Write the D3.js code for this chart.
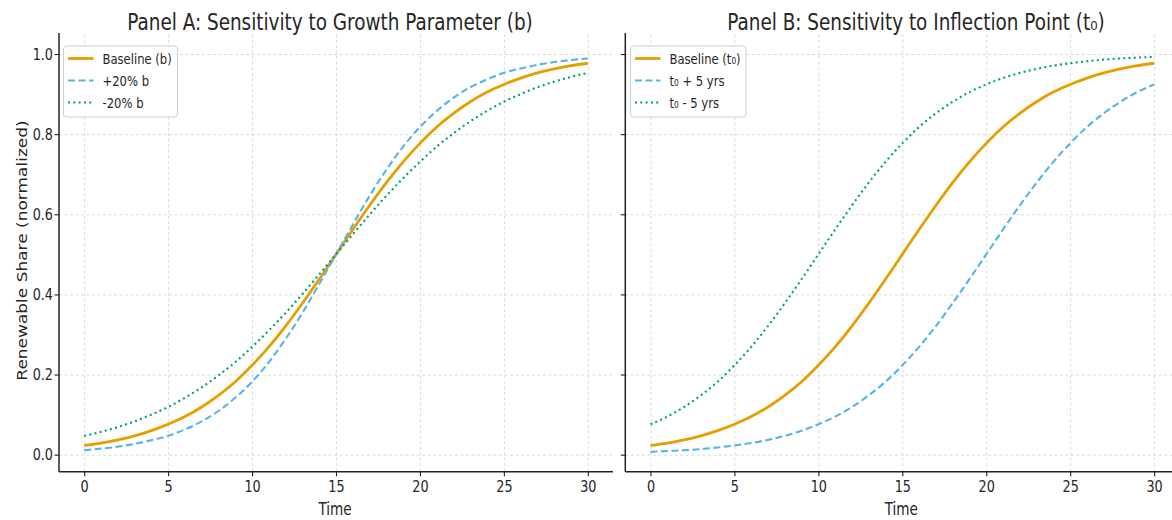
<!DOCTYPE html>
<html>
<head>
<meta charset="utf-8">
<script src="https://cdn.jsdelivr.net/npm/d3@7"></script>
<style>
  body { margin: 0; background: #fff; }
  text { font-family: "DejaVu Sans", sans-serif; fill: #262626; }
</style>
</head>
<body>
<div id="chart"></div>
<script>
/* data */
const years = [0,1,2,3,4,5,6,7,8,9,10,11,12,13,14,15,16,17,18,19,20,21,22,23,24,25,26,27,28,29,30];
const baseline = [0.023,0.029,0.037,0.047,0.060,0.076,0.095,0.119,0.148,0.182,0.223,0.269,0.321,0.378,0.438,0.500,0.562,0.622,0.679,0.731,0.777,0.818,0.852,0.881,0.905,0.924,0.940,0.953,0.963,0.971,0.977];
const growthUp = [0.011,0.015,0.020,0.027,0.036,0.047,0.063,0.083,0.109,0.142,0.182,0.231,0.289,0.354,0.426,0.500,0.574,0.646,0.711,0.769,0.818,0.858,0.891,0.917,0.937,0.953,0.964,0.973,0.980,0.985,0.989];
const growthDown = [0.047,0.057,0.069,0.083,0.100,0.119,0.142,0.168,0.198,0.231,0.269,0.310,0.354,0.401,0.450,0.500,0.550,0.599,0.646,0.690,0.731,0.769,0.802,0.832,0.858,0.881,0.900,0.917,0.931,0.943,0.953];
const lateShift = [0.007,0.009,0.011,0.014,0.018,0.023,0.029,0.037,0.047,0.060,0.076,0.095,0.119,0.148,0.182,0.223,0.269,0.321,0.378,0.438,0.500,0.562,0.622,0.679,0.731,0.777,0.818,0.852,0.881,0.905,0.924];
const earlyShift = [0.076,0.095,0.119,0.148,0.182,0.223,0.269,0.321,0.378,0.438,0.500,0.562,0.622,0.679,0.731,0.777,0.818,0.852,0.881,0.905,0.924,0.940,0.953,0.963,0.971,0.977,0.982,0.986,0.989,0.991,0.993];

const xTicks = [0, 5, 10, 15, 20, 25, 30];
const yTicks = [0.0, 0.2, 0.4, 0.6, 0.8, 1.0];
const titles = ["Panel A: Sensitivity to Growth Parameter (b)", "Panel B: Sensitivity to Inflection Point (t\u2080)"];
const labelsA = ["Baseline (b)", "+20% b", "-20% b"];
const labelsB = ["Baseline (t\u2080)", "t\u2080 + 5 yrs", "t\u2080 - 5 yrs"];

// styles per series: baseline, dashed, dotted
const styles = [
    { color: "#E69F00", width: 2.8, dash: null },
    { color: "#56B4E9", width: 2.1, dash: "7,3.5" },
    { color: "#009E73", width: 2.1, dash: "2,3.3" }
];

const W = 1172, H = 520;
const SX = 0.8; // text in the picture is squeezed sideways

const svg = d3.select("#chart").append("svg")
    .attr("width", W)
    .attr("height", H);

// shared y scale
const y = d3.scaleLinear()
    .domain([-0.0425, 1.0525])
    .range([471.7, 33]);

function squeezedText(g, x, y0, str, size, anchor) {
    return g.append("text")
        .attr("transform", "translate(" + x + "," + y0 + ") scale(" + SX + ",1)")
        .attr("text-anchor", anchor || "middle")
        .attr("font-size", size)
        .text(str);
}

function panel(left, right, title, titleX, series, labels, legendX, showYLabels) {
    const x = d3.scaleLinear()
        .domain([-1.5, 31.5])
        .range([left, right]);
    const g = svg.append("g");

    // grid
    g.append("g")
        .attr("transform", "translate(0," + y.range()[0] + ")")
        .call(d3.axisBottom(x).tickValues(xTicks).tickSize(-(y.range()[0] - y.range()[1])).tickFormat(""))
        .call(a => a.select(".domain").remove())
        .call(a => a.selectAll("line").attr("stroke", "#d2d2d2").attr("stroke-width", 0.8).attr("stroke-dasharray", "3,2.5"));
    g.append("g")
        .attr("transform", "translate(" + left + ",0)")
        .call(d3.axisLeft(y).tickValues(yTicks).tickSize(-(right - left)).tickFormat(""))
        .call(a => a.select(".domain").remove())
        .call(a => a.selectAll("line").attr("stroke", "#d2d2d2").attr("stroke-width", 0.8).attr("stroke-dasharray", "3,2.5"));

    // curves
    const line = d3.line()
        .x((d, i) => x(years[i]))
        .y(d => y(d))
        .curve(d3.curveMonotoneX);
    series.forEach((s, i) => {
        g.append("path")
            .datum(s)
            .attr("fill", "none")
            .attr("stroke", styles[i].color)
            .attr("stroke-width", styles[i].width)
            .attr("stroke-dasharray", styles[i].dash)
            .attr("d", line);
    });

    // axes
    const xa = g.append("g")
        .attr("transform", "translate(0," + y.range()[0] + ")")
        .call(d3.axisBottom(x).tickValues(xTicks).tickSize(4.5).tickPadding(4).tickFormat(d3.format("d")));
    xa.select(".domain").attr("d", "M" + left + ",0H" + right).attr("stroke", "#222").attr("stroke-width", 1.5);
    xa.selectAll(".tick line").attr("stroke", "#222").attr("stroke-width", 1.1);
    xa.selectAll("text")
        .attr("font-size", 16)
        .attr("font-family", "DejaVu Sans, sans-serif")
        .attr("fill", "#262626")
        .attr("transform", "scale(" + SX + ",1)");

    const ya = g.append("g")
        .attr("transform", "translate(" + left + ",0)")
        .call(d3.axisLeft(y).tickValues(yTicks).tickSize(4.5).tickPadding(3)
            .tickFormat(showYLabels ? d3.format(".1f") : ""));
    ya.select(".domain").attr("d", "M0," + y.range()[0] + "V" + y.range()[1]).attr("stroke", "#222").attr("stroke-width", 1.5);
    ya.selectAll(".tick line").attr("stroke", "#222").attr("stroke-width", 1.1);
    ya.selectAll("text")
        .attr("font-size", 16)
        .attr("font-family", "DejaVu Sans, sans-serif")
        .attr("fill", "#262626")
        .attr("transform", "scale(" + SX + ",1)");

    // titles
    squeezedText(g, titleX, 29.5, title, 23);
    squeezedText(g, (left + right) / 2 - 1, 515, "Time", 17);

    // legend
    const rows = [58.5, 80.5, 102.5];
    const lg = g.append("g");
    lg.append("rect")
        .attr("x", legendX).attr("y", 46)
        .attr("width", labels === labelsA ? 114 : 115.5).attr("height", 71)
        .attr("rx", 3)
        .attr("fill", "#fff").attr("fill-opacity", 0.85)
        .attr("stroke", "#d0d0d0").attr("stroke-width", 1);
    labels.forEach((lab, i) => {
        lg.append("line")
            .attr("x1", legendX + 4.5).attr("x2", legendX + 30)
            .attr("y1", rows[i]).attr("y2", rows[i])
            .attr("stroke", styles[i].color)
            .attr("stroke-width", styles[i].width)
            .attr("stroke-dasharray", styles[i].dash);
        squeezedText(lg, legendX + 39, rows[i] + 5, lab, 14.5, "start");
    });
}

panel(59, 613, titles[0], 330, [baseline, growthUp, growthDown], labelsA, 63.5, true);
panel(625.3, 1179.3, titles[1], 916, [baseline, lateShift, earlyShift], labelsB, 630.5, false);

// shared y label
svg.append("text")
    .attr("transform", "translate(26.5,250.5) scale(" + SX + ",1) rotate(-90)")
    .attr("text-anchor", "middle")
    .attr("font-size", 17)
    .text("Renewable Share (normalized)");
</script>
</body>
</html>
